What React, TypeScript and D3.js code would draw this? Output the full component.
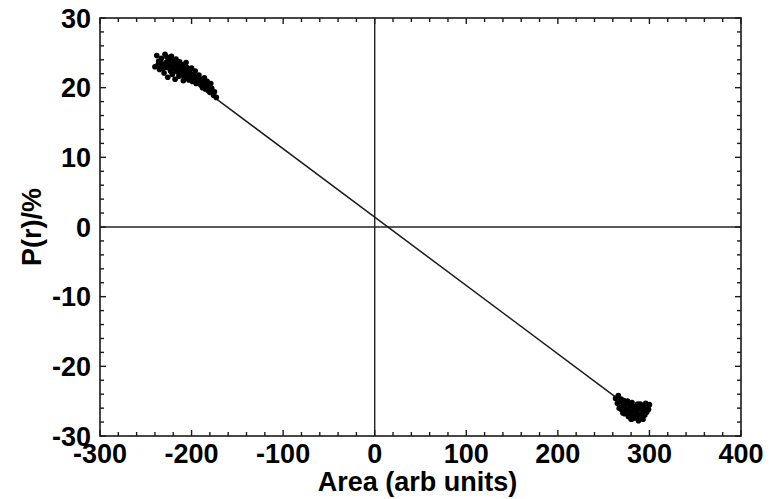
import React from "react";
import * as d3 from "d3";

// Scatter clusters of P(r) against area, plus the fitted line
const upperCluster: [number, number][] = [
  [-240, 23.0], [-238, 24.6], [-236, 23.8], [-235, 22.6], [-233, 24.2], [-232, 23.3],
  [-230, 22.1], [-229, 24.8], [-228, 23.6], [-227, 22.9], [-226, 21.5], [-225, 24.0],
  [-224, 23.1], [-223, 22.4], [-222, 24.5], [-221, 21.9], [-220, 23.4], [-219, 22.7],
  [-218, 21.2], [-217, 24.1], [-216, 23.0], [-215, 22.2], [-214, 21.6], [-213, 23.7],
  [-212, 22.8], [-211, 21.9], [-210, 23.3], [-209, 22.4], [-208, 21.4], [-207, 22.9],
  [-206, 23.6], [-205, 21.8], [-204, 22.5], [-203, 21.1], [-202, 22.2], [-201, 21.6],
  [-200, 22.8], [-199, 20.9], [-198, 21.9], [-197, 21.3], [-196, 22.4], [-195, 20.6],
  [-194, 21.5], [-193, 20.9], [-192, 21.8], [-190, 20.4], [-189, 21.2], [-188, 20.0],
  [-187, 20.7], [-186, 21.4], [-185, 19.8], [-184, 20.5], [-182, 19.6], [-181, 20.3],
  [-180, 19.3], [-178, 19.9], [-176, 18.9], [-175, 19.4], [-173, 18.6],
  [-237, 23.2], [-234, 23.6], [-231, 22.8], [-226, 23.3], [-223, 23.8], [-219, 23.9],
  [-217, 22.4], [-214, 22.9], [-211, 22.6], [-208, 22.2], [-205, 22.9], [-203, 22.0],
  [-199, 21.7], [-196, 21.0], [-191, 21.1], [-188, 20.8], [-183, 20.9], [-179, 20.6],
  [-227, 24.4], [-221, 22.9], [-215, 23.5], [-209, 21.0], [-202, 21.4],
];

const lowerCluster: [number, number][] = [
  [263, -24.6], [265, -25.3], [266, -24.2], [267, -26.0], [268, -25.0], [269, -24.7],
  [270, -26.3], [271, -25.6], [272, -24.9], [273, -26.8], [274, -25.4], [275, -26.1],
  [276, -25.0], [277, -27.2], [278, -26.4], [279, -25.7], [280, -26.9], [281, -25.2],
  [282, -27.5], [283, -26.2], [284, -25.8], [285, -27.0], [286, -26.5], [287, -25.4],
  [288, -27.8], [289, -26.1], [290, -26.9], [291, -25.6], [292, -27.3], [293, -26.4],
  [294, -25.9], [295, -27.0], [296, -25.3], [297, -26.6], [298, -25.8], [299, -26.2],
  [300, -25.5],
  [268, -25.9], [271, -26.7], [274, -26.6], [278, -25.3], [281, -26.4], [285, -26.0],
  [287, -26.9], [290, -25.4], [293, -27.6], [296, -26.3], [280, -27.6], [286, -27.4],
];

const fitLine: [number, number][] = [
  [-173, 18.4],
  [265, -24.6],
];

const xTicks = [-300, -200, -100, 0, 100, 200, 300, 400];
const yTicks = [-30, -20, -10, 0, 10, 20, 30];

const W = 774;
const H = 499;
const left = 100;
const right = 741;
const top = 18;
const bottom = 436;

export default function App() {
  const x = d3.scaleLinear().domain([-300, 400]).range([left, right]);
  const y = d3.scaleLinear().domain([-30, 30]).range([bottom, top]);

  const xMinor = d3.range(-300, 401, 20).filter((v) => v % 100 !== 0);
  const yMinor = d3.range(-30, 31, 2).filter((v) => v % 10 !== 0);

  const line = d3
    .line<[number, number]>()
    .x((d) => x(d[0]))
    .y((d) => y(d[1]));

  const axisColor = "#1a1a1a";
  const font = "'Liberation Sans', Arial, sans-serif";
  const majorLen = 6;
  const minorLen = 4;

  return (
    <svg
      width={W}
      height={H}
      style={{ position: "absolute", left: 0, top: 0, background: "#fff" }}
    >
      {/* zero reference lines */}
      <line x1={x(0)} x2={x(0)} y1={top} y2={bottom} stroke="#222" strokeWidth={1.4} />
      <line x1={left} x2={right} y1={y(0)} y2={y(0)} stroke="#222" strokeWidth={1.4} />

      {/* fitted line */}
      <path d={line(fitLine) || ""} fill="none" stroke="#1c1c1c" strokeWidth={1.5} />

      {/* data points */}
      {[...upperCluster, ...lowerCluster].map((d, i) => (
        <circle key={i} cx={x(d[0])} cy={y(d[1])} r={2.8} fill="#000" />
      ))}

      {/* frame */}
      <rect
        x={left}
        y={top}
        width={right - left}
        height={bottom - top}
        fill="none"
        stroke={axisColor}
        strokeWidth={1.6}
      />

      {/* x ticks, bottom and top, pointing inward */}
      {xTicks.map((v) => (
        <g key={`xt${v}`}>
          <line x1={x(v)} x2={x(v)} y1={bottom} y2={bottom - majorLen} stroke={axisColor} strokeWidth={1.4} />
          <line x1={x(v)} x2={x(v)} y1={top} y2={top + majorLen} stroke={axisColor} strokeWidth={1.4} />
        </g>
      ))}
      {xMinor.map((v) => (
        <g key={`xm${v}`}>
          <line x1={x(v)} x2={x(v)} y1={bottom} y2={bottom - minorLen} stroke={axisColor} strokeWidth={1.4} />
          <line x1={x(v)} x2={x(v)} y1={top} y2={top + minorLen} stroke={axisColor} strokeWidth={1.4} />
        </g>
      ))}

      {/* y ticks, left and right, pointing inward */}
      {yTicks.map((v) => (
        <g key={`yt${v}`}>
          <line x1={left} x2={left + majorLen} y1={y(v)} y2={y(v)} stroke={axisColor} strokeWidth={1.4} />
          <line x1={right} x2={right - majorLen} y1={y(v)} y2={y(v)} stroke={axisColor} strokeWidth={1.4} />
        </g>
      ))}
      {yMinor.map((v) => (
        <g key={`ym${v}`}>
          <line x1={left} x2={left + minorLen} y1={y(v)} y2={y(v)} stroke={axisColor} strokeWidth={1.4} />
          <line x1={right} x2={right - minorLen} y1={y(v)} y2={y(v)} stroke={axisColor} strokeWidth={1.4} />
        </g>
      ))}

      {/* tick labels */}
      {xTicks.map((v) => (
        <text
          key={`xl${v}`}
          x={x(v)}
          y={bottom + 27}
          textAnchor="middle"
          fontFamily={font}
          fontWeight="bold"
          fontSize={27}
          fill="#000"
        >
          {v}
        </text>
      ))}
      {yTicks.map((v) => (
        <text
          key={`yl${v}`}
          x={left - 9}
          y={y(v) + 9.5}
          textAnchor="end"
          fontFamily={font}
          fontWeight="bold"
          fontSize={27}
          fill="#000"
        >
          {v}
        </text>
      ))}

      {/* axis titles */}
      <text
        x={(left + right) / 2 - 3}
        y={491}
        textAnchor="middle"
        fontFamily={font}
        fontWeight="bold"
        fontSize={27}
        fill="#000"
      >
        Area (arb units)
      </text>
      <text
        transform={`translate(41, ${y(0)}) rotate(-90)`}
        textAnchor="middle"
        fontFamily={font}
        fontWeight="bold"
        fontSize={27}
        fill="#000"
      >
        P(r)/%
      </text>
    </svg>
  );
}
